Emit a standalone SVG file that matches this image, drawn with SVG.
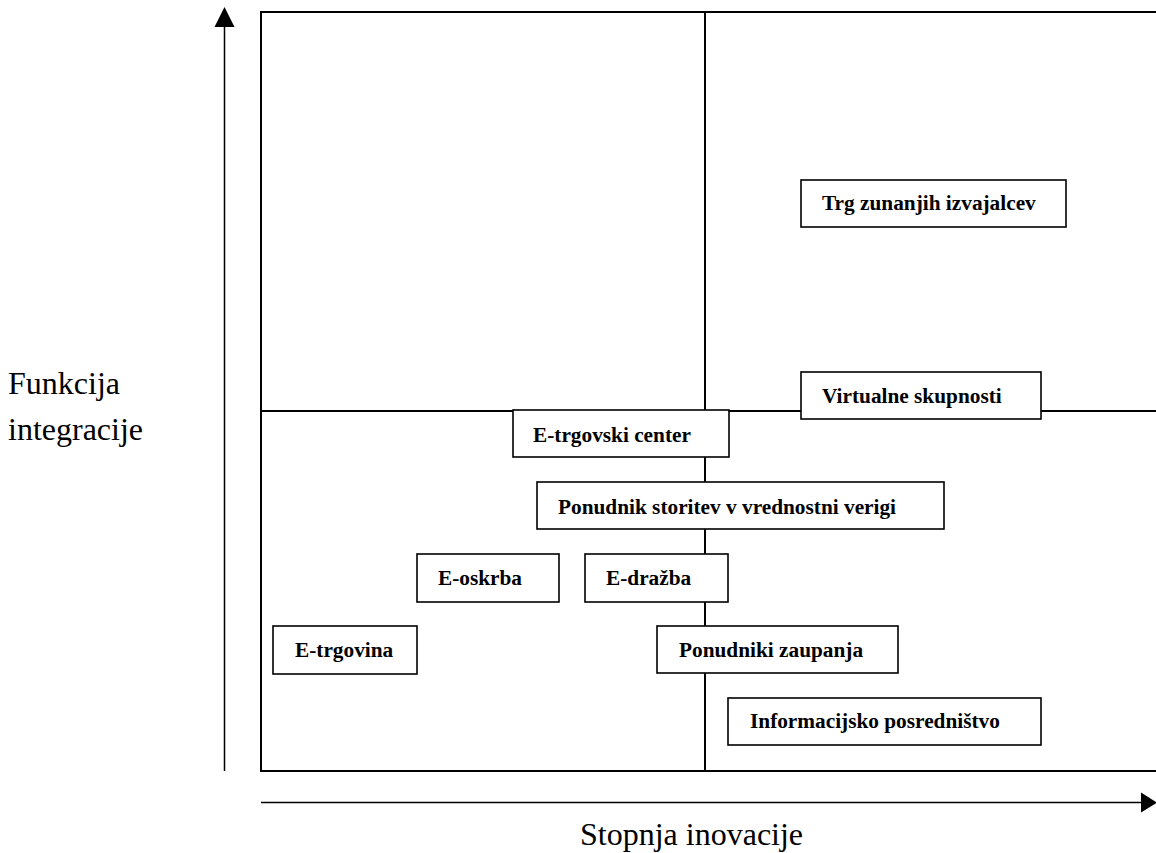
<svg xmlns="http://www.w3.org/2000/svg" width="1156" height="853" viewBox="0 0 1156 853">
<style>
.ln{stroke:#000;stroke-width:2;fill:none}
.ax{stroke:#000;stroke-width:1.5;fill:none}
.box{fill:#fff;stroke:#000;stroke-width:1.6}
.lbl{font-family:"Liberation Serif","Times New Roman",serif;font-weight:bold;font-size:21.3px;fill:#000}
.axl{font-family:"Liberation Serif","Times New Roman",serif;font-size:32px;fill:#000}
</style>
<rect width="1156" height="853" fill="#fff"/>
<g id="connectors">
<path class="ln" d="M1156,12 H261 V771 H1156"/>
<line class="ln" x1="705" y1="12" x2="705" y2="771"/>
<line class="ln" x1="261" y1="411" x2="1156" y2="411"/>
<line class="ax" x1="224.5" y1="771" x2="224.5" y2="24"/>
<polygon points="224.5,7 214.5,27 234.5,27" fill="#000"/>
<line class="ax" x1="261" y1="802.5" x2="1143" y2="802.5"/>
<polygon points="1157,802.5 1141,792.5 1141,812.5" fill="#000"/>
</g>
<g id="axis-y-label"><text class="axl" x="8" y="394">Funkcija</text><text class="axl" x="8" y="440">integracije</text></g>
<g id="axis-x-label"><text class="axl" x="580" y="845">Stopnja inovacije</text></g>
<g id="n-trg"><rect class="box" x="801" y="180" width="265" height="47"/><text class="lbl" x="822" y="210">Trg zunanjih izvajalcev</text></g>
<g id="n-virtualne"><rect class="box" x="801" y="372" width="240" height="47"/><text class="lbl" x="822" y="403">Virtualne skupnosti</text></g>
<g id="n-etrgovski"><rect class="box" x="513" y="410" width="216" height="47"/><text class="lbl" x="533" y="442">E-trgovski center</text></g>
<g id="n-ponudnik"><rect class="box" x="537" y="482" width="407" height="47"/><text class="lbl" x="558" y="514">Ponudnik storitev v vrednostni verigi</text></g>
<g id="n-eoskrba"><rect class="box" x="417" y="554" width="142" height="48"/><text class="lbl" x="438" y="585">E-oskrba</text></g>
<g id="n-edrazba"><rect class="box" x="585" y="554" width="143" height="48"/><text class="lbl" x="606" y="585">E-dražba</text></g>
<g id="n-etrgovina"><rect class="box" x="273" y="626" width="144" height="48"/><text class="lbl" x="295" y="657">E-trgovina</text></g>
<g id="n-zaupanja"><rect class="box" x="657" y="626" width="241" height="47"/><text class="lbl" x="679" y="657">Ponudniki zaupanja</text></g>
<g id="n-informacijsko"><rect class="box" x="728" y="698" width="313" height="47"/><text class="lbl" x="750" y="728">Informacijsko posredništvo</text></g>
</svg>
